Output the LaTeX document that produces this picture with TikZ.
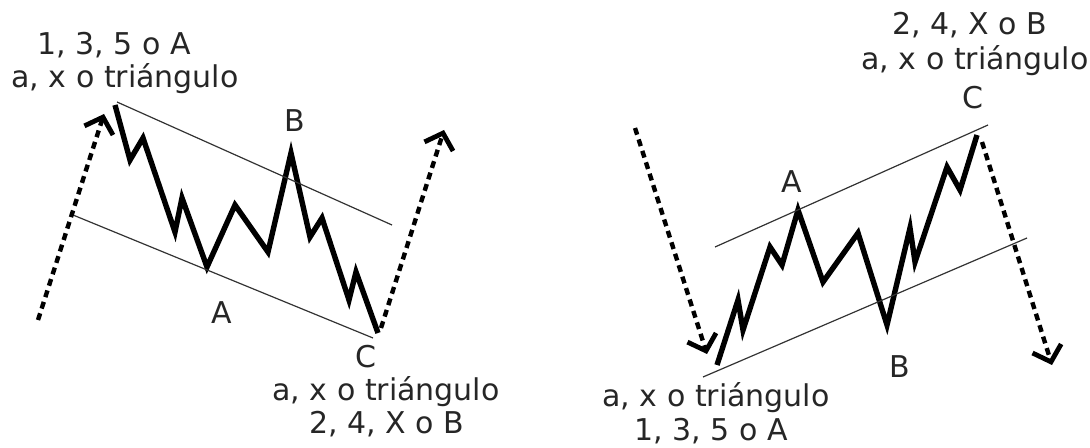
\documentclass[tikz,border=0pt]{standalone}
\usepackage{fontspec}
\setmainfont{DejaVu Sans}
\usetikzlibrary{arrows.meta}
\begin{document}
\begin{tikzpicture}[x=0.5pt,y=-0.5pt,
  wave/.style={line width=2.7pt,line join=miter,miter limit=10},
  chan/.style={line width=0.6pt,draw=black!80},
  trend/.style={line width=2.2pt,dash pattern=on 3.5pt off 2.5pt,
    -{Straight Barb[length=7pt,width=15pt,line width=2.4pt]}},
  lbl/.style={font=\fontsize{15}{18}\selectfont,inner sep=0pt,text=black!85}]
\useasboundingbox (0,0) rectangle (1090,448);
% ---------- labels ----------
\node[lbl] (tl1) at (114,45) {1,\ 3,\ 5 o A};
\node[lbl] (tl2) at (125,79) {a, x o triángulo};
\node[lbl] (lB) at (295,121) {B};
\node[lbl] (lA) at (222,313) {A};
\node[lbl] (lC) at (366,357) {C};
\node[lbl] (bl1) at (386,392) {a, x o triángulo};
\node[lbl] (bl2) at (387,424) {2,\ 4,\ X o B};
\node[lbl] (tr1) at (970,25) {2,\ 4,\ X o B};
\node[lbl] (tr2) at (975,61) {a, x o triángulo};
\node[lbl] (rC) at (973,98) {C};
\node[lbl] (rA) at (792,182) {A};
\node[lbl] (rB) at (900,367) {B};
\node[lbl] (br1) at (716,398) {a, x o triángulo};
\node[lbl] (br2) at (711,431) {1,\ 3,\ 5 o A};
% ---------- left wave ----------
\coordinate (L0) at (115,105);
\coordinate (L1) at (130,160);
\coordinate (L2) at (143,138);
\coordinate (L3) at (175,232);
\coordinate (L4) at (182,198);
\coordinate (L5) at (207,267);
\coordinate (L6) at (235,205);
\coordinate (L7) at (268,252);
\coordinate (L8) at (291,153);
\coordinate (L9) at (310,237);
\coordinate (L10) at (322,218);
\coordinate (L11) at (349,300);
\coordinate (L12) at (356,272);
\coordinate (L13) at (378,333);
\draw[wave] (L0)--(L1)--(L2)--(L3)--(L4)--(L5)--(L6)--(L7)--(L8)--(L9)--(L10)--(L11)--(L12)--(L13);
\coordinate (LU1) at (117,102);
\coordinate (LU2) at (392,225);
\coordinate (LD1) at (73,215);
\coordinate (LD2) at (373,338);
\draw[chan] (LU1)--(LU2);
\draw[chan] (LD1)--(LD2);
\coordinate (LT1s) at (38,320);
\coordinate (LT1e) at (104,114);
\coordinate (LT2s) at (381,328);
\coordinate (LT2e) at (444,130);
\draw[trend] (LT1s)--(LT1e);
\draw[trend] (LT2s)--(LT2e);
% ---------- right wave ----------
\coordinate (R0) at (717,365);
\coordinate (R1) at (738,300);
\coordinate (R2) at (743,330);
\coordinate (R3) at (770,247);
\coordinate (R4) at (782,265);
\coordinate (R5) at (798,210);
\coordinate (R6) at (823,282);
\coordinate (R7) at (858,233);
\coordinate (R8) at (887,325);
\coordinate (R9) at (910,228);
\coordinate (R10) at (915,262);
\coordinate (R11) at (947,167);
\coordinate (R12) at (960,190);
\coordinate (R13) at (977,135);
\draw[wave] (R0)--(R1)--(R2)--(R3)--(R4)--(R5)--(R6)--(R7)--(R8)--(R9)--(R10)--(R11)--(R12)--(R13);
\coordinate (RU1) at (715,247);
\coordinate (RU2) at (988,125);
\coordinate (RD1) at (703,377);
\coordinate (RD2) at (1027,238);
\draw[chan] (RU1)--(RU2);
\draw[chan] (RD1)--(RD2);
\coordinate (RT1s) at (635,128);
\coordinate (RT1e) at (707,354);
\coordinate (RT2s) at (982,142);
\coordinate (RT2e) at (1052,365);
\draw[trend] (RT1s)--(RT1e);
\draw[trend] (RT2s)--(RT2e);
\end{tikzpicture}
\end{document}
